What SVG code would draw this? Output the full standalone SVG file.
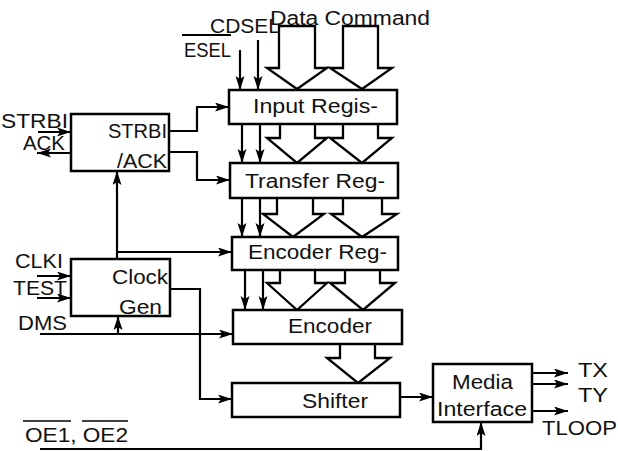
<svg xmlns="http://www.w3.org/2000/svg" width="618" height="451" viewBox="0 0 618 451">
<style>
text{font-family:"Liberation Sans",Arial,sans-serif;font-size:20px;fill:#111}
.box{fill:#fff;stroke:#000;stroke-width:2.5}
.fat{fill:#fff;stroke:#000;stroke-width:2.3;stroke-linejoin:miter}
.ln{fill:none;stroke:#000;stroke-width:2.2}
.ar{marker-end:url(#ah)}
</style>
<defs>
<marker id="ah" markerUnits="userSpaceOnUse" markerWidth="15" markerHeight="10" refX="14" refY="4.5" orient="auto">
<path d="M0,0 L14,4.5 L0,9 L3,4.5 z" fill="#000"/>
</marker>
</defs>
<rect width="618" height="451" fill="#fff"/>
<g id="fat-arrows">
<path class="fat" d="M279,26 H315 V68 H327 L297,89 L267,68 H279 Z"/>
<path class="fat" d="M343,26 H378 V68 H392 L362,89 L330,68 H343 Z"/>
<path class="fat" d="M280,124 V138 H267 L297,163 L327,138 H315 V124"/>
<path class="fat" d="M343,124 V138 H330 L362,163 L392,138 H378 V124"/>
<path class="fat" d="M277,198 V214 H263 L293,237 L324,214 H313 V198"/>
<path class="fat" d="M343,198 V214 H331 L362,237 L397,214 H382 V198"/>
<path class="fat" d="M280,270 V283 H267 L297,310 L327,283 H315 V270"/>
<path class="fat" d="M345,270 V283 H330 L363,310 L395,283 H380 V270"/>
<path class="fat" d="M340,344 V358 H327 L358,383 L390,358 H375 V344"/>
</g>
<g id="connectors">
<path class="ln ar" d="M38,132 H71"/>
<path class="ln ar" d="M71,153 H37"/>
<path class="ln ar" d="M169,131 H197 V107 H229"/>
<path class="ln ar" d="M169,152 H197 V180 H230"/>
<path class="ln ar" d="M117,259 V171"/>
<path class="ln ar" d="M117,252 H232"/>
<path class="ln ar" d="M37,276 H71"/>
<path class="ln ar" d="M37,298 H71"/>
<path class="ln ar" d="M40,334 H233"/>
<path class="ln ar" d="M118,334 V316"/>
<path class="ln ar" d="M170,289 H200 V399 H232"/>
<path class="ln ar" d="M400,397 H433"/>
<path class="ln ar" d="M532,373 H568"/>
<path class="ln ar" d="M532,384 H568"/>
<path class="ln ar" d="M532,411 H568"/>
<path class="ln ar" d="M40,449 H481 V422"/>
<path class="ln ar" d="M240,50 V90"/>
<path class="ln ar" d="M258,40 V90"/>
<path class="ln ar" d="M242,124 V163"/>
<path class="ln ar" d="M260,124 V163"/>
<path class="ln ar" d="M242,198 V237"/>
<path class="ln ar" d="M260,198 V237"/>
<path class="ln ar" d="M245,270 V310"/>
<path class="ln ar" d="M263,270 V310"/>
</g>
<g id="strbi">
<rect class="box" x="71" y="114" width="98" height="57"/>
<text x="108" y="138" textLength="59" lengthAdjust="spacingAndGlyphs">STRBI</text>
<text x="117" y="168" textLength="50" lengthAdjust="spacingAndGlyphs">/ACK</text>
</g>
<g id="clockgen">
<rect class="box" x="71" y="259" width="99" height="57"/>
<text x="112" y="284" textLength="56" lengthAdjust="spacingAndGlyphs">Clock</text>
<text x="119" y="314" textLength="43" lengthAdjust="spacingAndGlyphs">Gen</text>
</g>
<g id="input-reg">
<rect class="box" x="229" y="90" width="168" height="34"/>
<text x="253" y="113" textLength="125" lengthAdjust="spacingAndGlyphs">Input Regis-</text>
</g>
<g id="transfer-reg">
<rect class="box" x="230" y="163" width="168" height="35"/>
<text x="245" y="188" textLength="140" lengthAdjust="spacingAndGlyphs">Transfer Reg-</text>
</g>
<g id="encoder-reg">
<rect class="box" x="232" y="237" width="166" height="33"/>
<text x="248" y="259" textLength="139" lengthAdjust="spacingAndGlyphs">Encoder Reg-</text>
</g>
<g id="encoder">
<rect class="box" x="233" y="310" width="169" height="34"/>
<text x="288" y="333" textLength="84" lengthAdjust="spacingAndGlyphs">Encoder</text>
</g>
<g id="shifter">
<rect class="box" x="232" y="383" width="168" height="34"/>
<text x="302" y="408" textLength="66" lengthAdjust="spacingAndGlyphs">Shifter</text>
</g>
<g id="media">
<rect class="box" x="433" y="364" width="99" height="58"/>
<text x="452" y="389" textLength="61" lengthAdjust="spacingAndGlyphs">Media</text>
<text x="437" y="416" textLength="90" lengthAdjust="spacingAndGlyphs">Interface</text>
</g>
<g id="labels">
<text x="270" y="25" textLength="160" lengthAdjust="spacingAndGlyphs">Data Command</text>
<text x="210" y="33" textLength="70" lengthAdjust="spacingAndGlyphs">CDSEL</text>
<line class="ln" x1="182" y1="35" x2="231" y2="35"/>
<text x="184" y="57" textLength="47" lengthAdjust="spacingAndGlyphs">ESEL</text>
<text x="1" y="128" textLength="67" lengthAdjust="spacingAndGlyphs">STRBI</text>
<text x="23" y="150" textLength="42" lengthAdjust="spacingAndGlyphs">ACK</text>
<text x="15" y="268" textLength="48" lengthAdjust="spacingAndGlyphs">CLKI</text>
<text x="13" y="295" textLength="54" lengthAdjust="spacingAndGlyphs">TEST</text>
<text x="18" y="330" textLength="49" lengthAdjust="spacingAndGlyphs">DMS</text>
<text x="578" y="377" textLength="30" lengthAdjust="spacingAndGlyphs">TX</text>
<text x="578" y="402" textLength="30" lengthAdjust="spacingAndGlyphs">TY</text>
<text x="542" y="435" textLength="75" lengthAdjust="spacingAndGlyphs">TLOOP</text>
<text x="25" y="442" textLength="103" lengthAdjust="spacingAndGlyphs">OE1, OE2</text>
<line x1="23" y1="421" x2="71" y2="421" stroke="#000" stroke-width="1.5"/>
<line x1="82" y1="421" x2="128" y2="421" stroke="#000" stroke-width="1.5"/>
</g>
</svg>
